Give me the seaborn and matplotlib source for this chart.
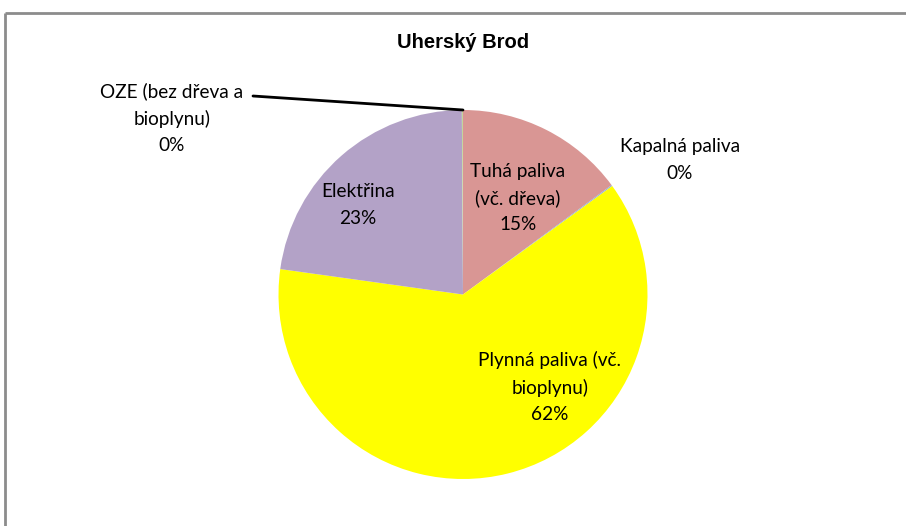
import matplotlib
matplotlib.use("Agg")
import matplotlib.pyplot as plt
import seaborn as sns

# ---- data ----
categories = ["Tuhá paliva\n(vč. dřeva)", "Kapalná paliva", "Plynná paliva (vč.\nbioplynu)",
              "Elektřina", "OZE (bez dřeva a\nbioplynu)"]
values = [14.9, 0.1, 62.2, 22.7, 0.1]
colors = ["#D99694", "#95B3D7", "#FFFF00", "#B3A2C7", "#C3D69B"]
title = "Uherský Brod"

sns.set_theme(style="white")
plt.rcParams["font.family"] = ["Lato", "DejaVu Sans"]

W, H = 906, 526
fig = plt.figure(figsize=(W / 100, H / 100), dpi=100)
ax = fig.add_axes([0, 0, 1, 1])

cx, cy, r = 463, H - 294.5, 184.5
wedges, _ = ax.pie(values, colors=colors, startangle=90, counterclock=False,
                   center=(cx, cy), radius=r, frame=True,
                   wedgeprops=dict(linewidth=0))
ax.set_xlim(0, W)
ax.set_ylim(0, H)
ax.set_aspect("equal")
ax.axis("off")

# border (top and left lines)
ax.plot([4.5, W], [H - 12.5, H - 12.5], color="#8c8c8c", lw=2, solid_capstyle="butt")
ax.plot([4.5, 4.5], [0, H - 12.5], color="#8c8c8c", lw=2, solid_capstyle="butt")

ax.text(cx, H - 43, title, ha="center", va="center", fontsize=14.5,
        fontweight="bold", color="black", family=["Liberation Sans", "DejaVu Sans"])

label_pos = [(518, 198), (680, 160), (550, 387), (358, 205), (172, 118)]
fs = 13.7
for cat, v, (lx, ly) in zip(categories, values, label_pos):
    ax.text(lx, H - ly, f"{cat}\n{round(v):.0f}%", ha="center", va="center",
            fontsize=fs, linespacing=1.65, color="black")

# leader line for OZE
ax.plot([253, cx], [H - 96, H - 110], color="black", lw=2)

fig.savefig("out.png", dpi=100)
